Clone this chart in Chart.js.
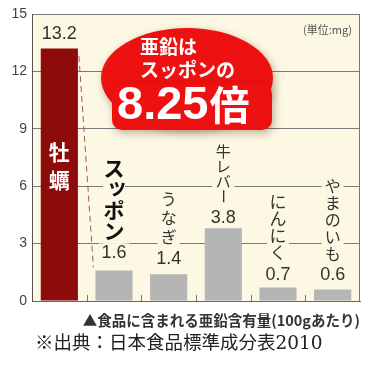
<!DOCTYPE html>
<html>
<head>
<meta charset="utf-8">
<script src="https://cdn.jsdelivr.net/npm/chart.js@4"></script>
<style>
  html, body { margin: 0; padding: 0; background: #fff; }
  #wrap { width: 374px; height: 367px; }
</style>
</head>
<body>
<div id="wrap"><canvas id="zincChart" width="374" height="367"></canvas></div>
<script>
  // data (mg per 100g)
  const foods = ['牡蠣', 'スッポン', 'うなぎ', '牛レバー', 'にんにく', 'やまのいも'];
  const zinc = [13.2, 1.6, 1.4, 3.8, 0.7, 0.6];
  const yTicks = [0, 3, 6, 9, 12, 15];

  const JP = '"Noto Sans CJK JP", sans-serif';
  const NUM = '"Liberation Sans", Arial, sans-serif';
  const CREAM = '#fdf8e4';

  // label styling per bar
  const valueGap = [15, 18, 16, 11, 14, 15];
  const nameFont = ['bold 21px ' + JP, 'bold 21px ' + JP, '16px ' + JP, '15px ' + JP, '17px ' + JP, '16px ' + JP];
  const nameStep = [28, 21, 19, 15, 17, 17];
  const nameColor = ['#fff', '#111', '#333', '#333', '#333', '#333'];

  function drawVertical(ctx, text, x, yLast, step, font, color, bg) {
    const chars = Array.from(text);
    const top = yLast - (chars.length - 1) * step;
    ctx.save();
    ctx.font = font;
    if (bg) {
      ctx.fillStyle = bg;
      ctx.fillRect(x - 11, top - step / 2 - 2, 22, chars.length * step + 4);
    }
    ctx.fillStyle = color;
    ctx.textAlign = 'center';
    ctx.textBaseline = 'middle';
    chars.forEach((c, i) => {
      const y = top + i * step;
      if (c === 'ー') {
        ctx.save();
        ctx.translate(x, y);
        ctx.rotate(Math.PI / 2);
        ctx.fillText(c, 0, 0);
        ctx.restore();
      } else if ('ッっゃゅょ'.includes(c)) {
        ctx.fillText(c, x + 3, y - 3);
      } else {
        ctx.fillText(c, x, y);
      }
    });
    ctx.restore();
  }

  const decor = {
    id: 'decor',
    beforeDraw(chart) {
      const { ctx, chartArea: a } = chart;
      ctx.save();
      ctx.fillStyle = CREAM;
      ctx.fillRect(a.left, a.top, a.right - a.left, a.bottom - a.top);
      ctx.restore();
    },
    afterDatasetsDraw(chart) {
      const { ctx, chartArea: a } = chart;
      const meta = chart.getDatasetMeta(0);
      const ys = chart.scales.y;

      // right border and little ticks on the base line
      ctx.save();
      ctx.strokeStyle = '#777';
      ctx.lineWidth = 1;
      ctx.beginPath();
      ctx.moveTo(a.right - 0.5, a.top);
      ctx.lineTo(a.right - 0.5, a.bottom);
      for (let i = 1; i < foods.length; i++) {
        const bx = Math.round((meta.data[i - 1].x + meta.data[i].x) / 2) + 0.5;
        ctx.moveTo(bx, a.bottom);
        ctx.lineTo(bx, a.bottom - 6);
      }
      ctx.stroke();
      ctx.restore();

      // dashed connector from oyster to suppon
      const b0 = meta.data[0], b1 = meta.data[1];
      ctx.save();
      ctx.strokeStyle = '#a0566a';
      ctx.lineWidth = 1;
      ctx.setLineDash([6, 4]);
      ctx.beginPath();
      ctx.moveTo(b0.x + b0.width / 2 + 1, ys.getPixelForValue(zinc[0] - 0.4));
      ctx.lineTo(b1.x - b1.width / 2 - 2, b1.y - 3);
      ctx.stroke();
      ctx.restore();

      // value labels and vertical names
      meta.data.forEach((bar, i) => {
        const ly = bar.y - valueGap[i];
        ctx.save();
        ctx.font = '18px ' + NUM;
        const w = ctx.measureText(String(zinc[i])).width;
        ctx.fillStyle = CREAM;
        ctx.fillRect(bar.x - w / 2 - 3, ly - 9, w + 6, 18);
        ctx.fillStyle = '#333';
        ctx.textAlign = 'center';
        ctx.textBaseline = 'middle';
        ctx.fillText(String(zinc[i]), bar.x, ly + 1);
        ctx.restore();
        if (i === 0) {
          drawVertical(ctx, foods[0], bar.x, ys.getPixelForValue(6.3), nameStep[0], nameFont[0], nameColor[0], null);
        } else {
          drawVertical(ctx, foods[i], bar.x, ly - 21, nameStep[i], nameFont[i], nameColor[i], CREAM);
        }
      });

      // unit
      ctx.save();
      ctx.font = '11px ' + JP;
      ctx.fillStyle = '#555';
      ctx.textAlign = 'right';
      ctx.textBaseline = 'middle';
      ctx.fillText('(単位:mg)', a.right - 8, 30);
      ctx.restore();
    },
    afterDraw(chart) {
      const { ctx } = chart;
      const ratio = (zinc[0] / zinc[1]).toFixed(2);
      // red bubble
      ctx.save();
      ctx.shadowColor = 'rgba(80,40,0,0.35)';
      ctx.shadowBlur = 8;
      ctx.shadowOffsetX = 2;
      ctx.shadowOffsetY = 3;
      ctx.fillStyle = '#ee1111';
      ctx.beginPath();
      ctx.ellipse(187, 78, 86, 50, 0, 0, Math.PI * 2);
      ctx.fill();
      ctx.beginPath();
      ctx.roundRect(112, 84, 160, 46, 10);
      ctx.fill();
      ctx.restore();

      ctx.save();
      ctx.fillStyle = '#fff';
      ctx.textBaseline = 'middle';
      ctx.textAlign = 'left';
      ctx.font = 'bold 19px ' + JP;
      ctx.fillText('亜鉛は', 140, 47);
      ctx.fillText('スッポンの', 140, 70);
      ctx.font = 'bold 47px ' + NUM;
      ctx.fillText(ratio, 117, 106);
      const w = ctx.measureText(ratio).width;
      ctx.font = 'bold 40px ' + JP;
      ctx.fillText('倍', 117 + w + 1, 105);
      ctx.restore();

      // captions
      ctx.save();
      ctx.fillStyle = '#333';
      ctx.textBaseline = 'middle';
      ctx.textAlign = 'right';
      ctx.font = 'bold 14.5px ' + JP;
      ctx.fillText('▲食品に含まれる亜鉛含有量(100gあたり)', 360, 320);
      ctx.fillStyle = '#222';
      ctx.textAlign = 'left';
      ctx.font = '18.5px "DejaVu Serif", "Noto Sans CJK JP", serif';
      ctx.fillText('※出典：日本食品標準成分表2010', 35, 344);
      ctx.restore();
    }
  };

  document.addEventListener('DOMContentLoaded', () => {
    const ctx = document.getElementById('zincChart').getContext('2d');
    try {
      new Chart(ctx, {
        type: 'bar',
        data: {
          labels: foods,
          datasets: [{
            data: zinc,
            backgroundColor: ['#8e0b0b', '#b5b5b5', '#b5b5b5', '#b5b5b5', '#b5b5b5', '#b5b5b5'],
            borderWidth: 0,
            barPercentage: 0.68,
            categoryPercentage: 1
          }]
        },
        options: {
          responsive: false,
          animation: false,
          layout: { padding: { top: 14, right: 14, bottom: 66, left: 0 } },
          plugins: { legend: { display: false }, tooltip: { enabled: false } },
          scales: {
            x: {
              grid: { display: false, drawTicks: false },
              border: { display: true, color: '#666' },
              ticks: { display: false },
              afterFit: s => { s.height = 0; }
            },
            y: {
              min: 0,
              max: 15,
              afterBuildTicks: s => { s.ticks = yTicks.map(v => ({ value: v })); },
              ticks: { color: '#444', font: { size: 14, family: NUM }, padding: 5 },
              grid: { color: '#7a7a7a', drawTicks: false },
              border: { color: '#555' },
              afterFit: s => { s.width = 32; }
            }
          }
        },
        plugins: [decor]
      });
    } catch (error) {
      console.error("Chart.js Error: ", error);
    }
  });
</script>
</body>
</html>
